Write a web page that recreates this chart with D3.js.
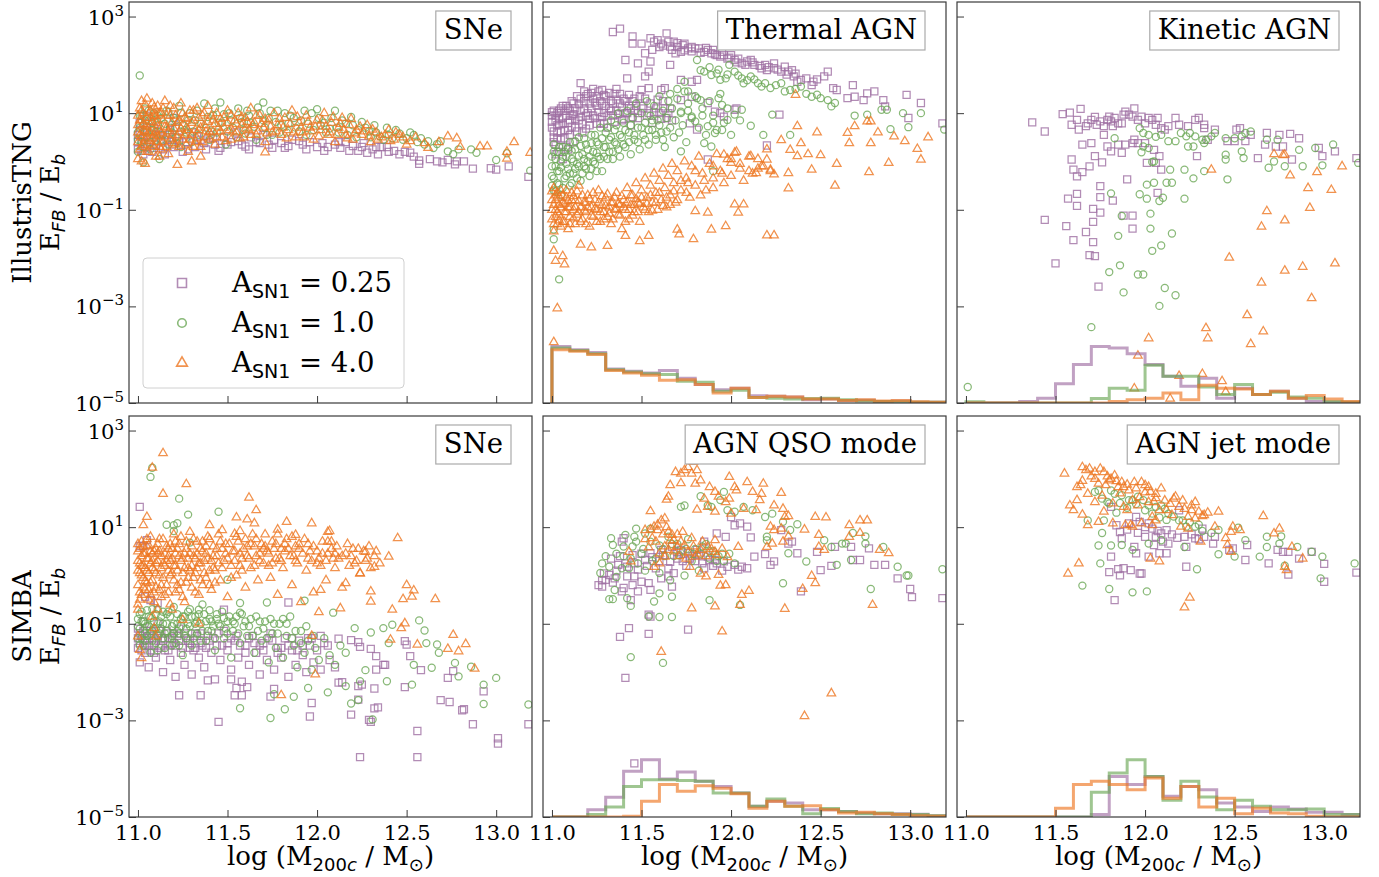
<!DOCTYPE html>
<html>
<head>
<meta charset="utf-8">
<script src="https://cdn.jsdelivr.net/npm/d3@7"></script>
<style>
  body { margin: 0; background: #fff; }
  svg { display: block; }
</style>
</head>
<body>
<svg id="chart" width="1379" height="877"></svg>
<script>
// axis values
var massTicks = [11.0, 11.5, 12.0, 12.5, 13.0],
  energyTicks = [1e3, 1e1, 1e-1, 1e-3, 1e-5],
  energyTickExp = ["3", "1", "\u22121", "\u22123", "\u22125"],
  binEdges = [11.0, 11.1, 11.2, 11.3, 11.4, 11.5, 11.6, 11.7, 11.8, 11.9, 12.0,
    12.1, 12.2, 12.3, 12.4, 12.5, 12.6, 12.7, 12.8, 12.9, 13.0, 13.1, 13.2],
  runLabels = ["0.25", "1.0", "4.0"],
  runColors = ["#9f6fa3", "#6ca756", "#ee7722"];

// scatter points: [log M200c, log10(E_FB / E_b)]
// IllustrisTNG - SNe
var tngSNe025 = [[11.00,0.25],[11.00,0.55],[11.01,0.80],[11.02,0.40],[11.03,0.15],[11.04,0.65],[11.05,0.30],[11.06,0.50],
  [11.08,0.20],[11.09,0.70],[11.10,0.35],[11.12,0.55],[11.14,0.25],[11.16,0.45],[11.18,0.65],[11.20,0.30],[11.22,0.50],
  [11.25,0.20],[11.27,0.40],[11.30,0.60],[11.32,0.30],[11.35,0.45],[11.38,0.25],[11.40,0.55],[11.43,0.35],[11.46,0.28],
  [11.48,0.50],[11.52,0.40],[11.55,0.60],[11.58,0.35],[11.60,0.31],[11.63,0.50],[11.66,0.40],[11.70,0.55],[11.73,0.35],
  [11.76,0.45],[11.80,0.38],[11.82,0.28],[11.86,0.45],[11.90,0.42],[11.92,0.35],[11.96,0.40],[12.00,0.30],[12.03,0.38],
  [12.06,0.30],[12.10,0.35],[12.13,0.28],[12.16,0.40],[12.20,0.32],[12.23,0.22],[12.25,0.30],[12.28,0.18],[12.31,0.25],
  [12.34,0.15],[12.36,0.30],[12.40,0.20],[12.46,0.15],[12.49,0.20],[12.54,0.10],[12.57,-0.05],[12.57,0.02],[12.63,0.05],
  [12.67,0.00],[12.70,-0.02],[12.73,0.03],[12.77,-0.06],[12.78,0.00],[12.82,0.00],[12.87,-0.15],[12.97,-0.14],[13.00,-0.17],
  [13.07,-0.10],[13.18,-0.32],[11.05,0.95],[11.20,0.90],
  [11.00,0.40],[11.01,0.62],[11.02,0.22],[11.03,0.50],[11.05,0.70],[11.07,0.40],[11.09,0.28],[11.11,0.62],[11.13,0.42],
  [11.15,0.15],[11.17,0.55],[11.19,0.35],[11.21,0.70],[11.23,0.42],[11.28,0.25],[11.33,0.52],[11.37,0.38],[11.42,0.48],
  [11.45,0.22],[11.50,0.35],[11.56,0.42],[11.62,0.25],[11.68,0.38],[11.75,0.28],[11.84,0.32],[11.94,0.25],[12.04,0.22],
  [12.12,0.40],[12.18,0.22],[12.26,0.38],[12.33,0.30],[12.39,0.30],[12.43,0.22],[12.52,0.18]];
var tngSNe1 = [[11.01,1.78],[11.00,0.20],[11.00,0.60],[11.01,0.95],[11.02,0.40],[11.03,0.75],[11.03,-0.02],[11.04,1.10],
  [11.05,0.50],[11.06,0.85],[11.07,0.25],[11.08,0.65],[11.09,1.00],[11.10,0.45],[11.11,0.75],[11.12,0.05],[11.13,0.90],
  [11.14,0.55],[11.16,1.05],[11.17,0.35],[11.18,0.70],[11.20,0.90],[11.21,0.50],[11.23,1.15],[11.24,0.30],[11.25,0.75],
  [11.27,0.60],[11.29,1.00],[11.30,0.40],[11.32,0.85],[11.34,0.55],[11.37,1.20],[11.38,0.70],[11.40,0.45],[11.42,0.95],
  [11.44,0.60],[11.46,1.22],[11.47,0.80],[11.49,0.35],[11.51,1.00],[11.53,0.70],[11.55,0.50],[11.57,0.90],[11.59,0.65],
  [11.61,1.05],[11.63,0.80],[11.66,0.45],[11.68,1.00],[11.70,1.22],[11.71,0.70],[11.73,0.90],[11.75,0.55],[11.78,1.05],
  [11.80,0.75],[11.83,0.60],[11.85,0.95],[11.88,0.70],[11.91,0.85],[11.94,0.55],[11.97,1.00],[12.00,1.08],[12.02,0.75],
  [12.05,0.60],[12.08,0.90],[12.11,0.70],[12.14,0.85],[12.17,0.55],[12.20,0.75],[12.23,0.65],[12.27,0.70],[12.30,0.50],
  [12.33,0.60],[12.37,0.45],[12.40,0.55],[12.44,0.65],[12.48,0.45],[12.52,0.60],[12.56,0.40],[12.60,0.35],[12.65,0.28],
  [12.69,0.42],[12.73,0.21],[12.76,0.15],[12.79,0.25],[12.86,0.25],[12.89,0.18],[13.00,0.03],[13.06,0.17],[13.19,-0.19],
  [11.00,0.45],[11.01,0.70],[11.02,0.95],[11.03,0.30],[11.04,0.85],[11.05,0.60],[11.06,1.05],[11.07,0.40],[11.08,0.80],
  [11.10,0.62],[11.11,0.95],[11.13,0.45],[11.15,0.78],[11.17,1.02],[11.19,0.60],[11.21,0.85],[11.22,0.38],[11.24,1.00],
  [11.26,0.65],[11.28,0.85],[11.31,0.62],[11.33,1.05],[11.35,0.78],[11.39,0.92],[11.41,0.62],[11.43,1.10],[11.45,0.80],
  [11.48,0.98],[11.50,0.62],[11.52,0.85],[11.56,1.10],[11.58,0.82],[11.60,0.58],[11.62,0.95],[11.65,0.72],[11.67,1.12],
  [11.70,0.85],[11.72,0.55],[11.74,1.05],[11.77,0.82],[11.79,0.60],[11.82,1.00],[11.84,0.78],[11.87,0.90],[11.90,0.62],
  [11.93,1.05],[11.95,0.78],[11.98,0.65],[12.01,0.90],[12.04,0.80],[12.07,0.68],[12.10,1.05],[12.12,0.60],[12.16,0.78],
  [12.19,0.92],[12.22,0.50],[12.25,0.82],[12.29,0.62],[12.32,0.75],[12.35,0.52],[12.39,0.70],[12.42,0.48],[12.46,0.58],
  [12.50,0.48],[12.54,0.55],[12.58,0.48],[12.62,0.42],[12.67,0.36]];
var tngSNe4 = [[11.00,0.05],[11.00,0.40],[11.00,0.75],[11.01,1.10],[11.01,0.55],[11.02,1.25],[11.02,0.30],[11.02,0.85],
  [11.03,0.65],[11.03,1.00],[11.04,-0.05],[11.04,0.45],[11.05,0.90],[11.05,1.30],[11.06,0.60],[11.06,0.20],[11.07,1.05],
  [11.07,0.75],[11.08,0.35],[11.08,1.20],[11.09,0.55],[11.09,0.95],[11.10,0.80],[11.10,0.10],[11.11,1.15],[11.11,0.40],
  [11.12,0.65],[11.13,1.00],[11.13,0.25],[11.14,0.85],[11.15,1.25],[11.15,0.50],[11.16,0.70],[11.17,0.15],[11.18,0.95],
  [11.19,0.55],[11.20,1.10],[11.21,0.35],[11.22,0.80],[11.23,0.60],[11.24,1.20],[11.25,0.45],[11.26,0.90],[11.27,0.70],
  [11.28,0.20],[11.29,1.05],[11.30,0.55],[11.31,0.85],[11.32,0.40],[11.33,1.10],[11.34,0.65],[11.35,0.30],[11.36,0.95],
  [11.37,0.75],[11.38,0.50],[11.39,1.15],[11.40,0.60],[11.42,0.85],[11.43,0.35],[11.44,1.00],[11.45,0.70],[11.47,0.50],
  [11.48,0.90],[11.50,1.05],[11.51,0.65],[11.52,0.45],[11.54,0.85],[11.55,0.60],[11.56,1.00],[11.58,0.75],[11.59,0.50],
  [11.60,0.90],[11.62,0.65],[11.63,1.10],[11.65,0.80],[11.66,0.55],[11.68,0.95],[11.70,0.70],[11.71,0.40],[11.73,0.85],
  [11.75,0.60],[11.76,1.00],[11.78,0.75],[11.80,0.55],[11.82,0.90],[11.84,0.65],[11.86,1.05],[11.88,0.50],[11.90,0.80],
  [11.92,0.60],[11.94,0.95],[11.96,0.70],[11.98,0.45],[12.00,0.85],[12.02,0.65],[12.04,1.00],[12.06,0.55],[12.08,0.80],
  [12.10,0.40],[12.12,0.70],[12.14,0.90],[12.16,0.55],[12.18,0.75],[12.20,0.45],[12.22,0.65],[12.25,0.55],[12.28,0.75],
  [12.30,0.40],[12.33,0.60],[12.36,0.50],[12.40,0.65],[12.43,0.45],[12.46,0.55],[12.50,0.35],[12.55,0.50],[12.60,0.38],
  [12.62,0.28],[12.68,0.40],[12.73,0.52],[12.78,0.48],[12.80,0.30],[12.91,0.31],[12.95,0.31],[13.06,0.20],[13.06,0.06],
  [13.10,0.40],[13.19,0.18],[11.22,-0.07],[11.30,0.00],[11.35,0.10],[11.02,0.00],[11.12,0.10],[11.71,0.19],
  [11.00,0.95],[11.00,0.60],[11.01,0.25],[11.01,0.85],[11.02,0.50],[11.02,1.05],[11.03,0.35],[11.03,0.78],[11.04,1.18],
  [11.04,0.62],[11.05,0.20],[11.05,0.72],[11.06,1.00],[11.06,0.42],[11.07,0.58],[11.07,0.90],[11.08,0.48],[11.08,0.82],
  [11.09,0.30],[11.09,1.12],[11.10,0.62],[11.10,0.95],[11.11,0.52],[11.11,0.85],[11.12,0.30],[11.12,1.00],[11.13,0.58],
  [11.14,0.40],[11.14,1.10],[11.15,0.72],[11.16,0.30],[11.16,0.95],[11.17,0.62],[11.18,0.45],[11.18,1.15],[11.19,0.80],
  [11.20,0.38],[11.20,0.68],[11.21,0.95],[11.22,0.52],[11.23,0.85],[11.23,0.30],[11.24,0.68],[11.25,1.00],[11.26,0.55],
  [11.27,0.35],[11.27,0.88],[11.28,0.65],[11.29,0.45],[11.30,0.80],[11.31,1.05],[11.31,0.30],[11.32,0.65],[11.33,0.48],
  [11.34,0.90],[11.35,0.70],[11.36,0.40],[11.37,1.00],[11.38,0.62],[11.39,0.82],[11.40,0.45],[11.41,0.95],[11.42,0.62],
  [11.43,0.78],[11.44,0.50],[11.46,0.88],[11.46,0.62],[11.48,0.70],[11.49,0.42],[11.50,0.80],[11.52,0.95],[11.53,0.62],
  [11.55,0.78],[11.57,0.48],[11.58,0.92],[11.60,0.68],[11.61,0.82],[11.63,0.55],[11.64,0.75],[11.66,0.95],[11.67,0.62],
  [11.69,0.78],[11.71,0.88],[11.72,0.58],[11.74,0.72],[11.77,0.62],[11.79,0.88],[11.81,0.70],[11.83,0.48],[11.85,0.78],
  [11.87,0.60],[11.89,0.92],[11.91,0.70],[11.93,0.50],[11.95,0.82],[11.97,0.62],[11.99,0.72],[12.01,0.52],[12.03,0.85],
  [12.05,0.72],[12.07,0.60],[12.09,0.92],[12.11,0.55],[12.13,0.78],[12.15,0.65],[12.17,0.48],[12.19,0.88],[12.21,0.58],
  [12.24,0.72],[12.26,0.62],[12.29,0.52],[12.31,0.66],[12.34,0.45],[12.38,0.55],[12.41,0.42],[12.44,0.60],[12.48,0.50],
  [12.52,0.42]];

// IllustrisTNG - thermal AGN
var tngThermal025 = [[11.34,2.68],[11.38,2.75],[11.45,2.59],[11.45,2.44],[11.50,2.44],[11.52,2.24],[11.55,2.55],[11.56,2.31],
  [11.59,2.51],[11.61,2.44],[11.64,2.65],[11.65,2.48],[11.68,2.48],[11.70,2.37],[11.72,2.27],[11.74,2.44],[11.76,2.34],
  [11.78,2.37],[11.80,2.34],[11.82,2.34],[11.85,2.27],[11.89,2.24],[11.92,2.20],[11.94,2.17],[11.98,2.13],[12.02,2.10],
  [12.06,2.03],[12.09,2.07],[12.13,2.00],[12.17,1.93],[12.20,1.89],[12.24,2.03],[12.28,1.86],[12.32,1.86],[12.35,1.76],
  [12.39,1.69],[12.46,1.65],[12.52,1.76],[12.54,1.86],[12.57,1.52],[12.59,1.48],[12.68,1.58],[12.69,1.34],[12.74,1.27],
  [12.76,1.41],[12.80,1.45],[12.85,1.27],[12.86,1.14],[12.98,1.38],[13.06,1.21],[12.99,0.90],[13.18,0.79],[11.57,2.48],
  [11.60,2.37],[11.67,2.31],[11.69,2.24],[11.73,2.41],[11.87,2.31],[11.90,2.31],[11.96,2.20],[12.00,2.20],[12.04,2.13],
  [12.11,2.10],[12.19,2.00],[12.24,1.93],[12.30,1.96],[12.34,1.89],[12.37,1.65],[12.45,1.58],[12.65,1.31],
  [11.62,2.40],[11.66,2.38],[11.70,2.45],[11.74,2.30],[11.78,2.28],[11.83,2.25],[11.86,2.35],[11.91,2.22],[11.95,2.27],
  [11.99,2.15],[12.03,2.05],[12.08,2.00],[12.12,2.05],[12.16,1.98],[12.21,1.95],[12.26,1.90],[12.31,1.80],[12.36,1.82],
  [12.42,1.72],[12.48,1.70],
  [11.16,1.62],[11.41,2.10],[11.42,1.72],[11.48,2.03],[11.52,1.76],[11.54,1.86],[11.55,2.07],[11.66,2.00],[11.50,1.48],
  [11.54,1.52],[11.72,1.69],[11.78,1.65],[11.81,1.69],[11.87,1.21],[12.02,1.07],[12.20,0.33],[11.87,0.04],[11.96,0.93],
  [12.27,0.97],[11.61,1.48],[11.63,1.52],[11.78,1.34],[11.72,1.27],[11.77,0.79],[11.81,0.66],[11.91,1.03],[11.94,1.00],
  [12.03,1.10],
  [11.00,0.95],[11.00,0.70],[11.01,0.50],[11.01,1.05],[11.02,0.85],[11.02,0.35],[11.03,0.60],[11.03,1.00],[11.04,0.78],
  [11.05,0.45],[11.05,1.10],[11.06,0.90],[11.07,0.65],[11.08,1.15],[11.08,0.30],[11.09,0.80],[11.10,1.05],[11.10,0.55],
  [11.11,0.95],[11.12,1.20],[11.13,0.70],[11.14,1.35],[11.15,0.85],[11.16,1.05],[11.17,0.60],[11.18,1.25],[11.19,0.95],
  [11.20,1.40],[11.21,0.75],[11.22,1.10],[11.23,1.30],[11.24,0.90],[11.25,1.15],[11.26,1.45],[11.27,0.80],[11.28,1.20],
  [11.29,1.00],[11.30,1.35],[11.31,0.70],[11.32,1.10],[11.33,1.25],[11.34,0.95],[11.35,1.40],[11.36,1.05],[11.38,1.20],
  [11.39,0.85],[11.40,1.30],[11.41,1.00],[11.43,1.15],[11.44,0.75],[11.45,1.25],[11.46,1.05],[11.48,0.90],[11.50,1.15],
  [11.52,1.30],[11.54,1.00],[11.56,0.80],[11.58,1.10],[11.60,1.00],[11.62,1.25],[11.64,0.90],[11.66,1.10],[11.04,0.20],
  [11.02,0.15],[11.12,0.40],[11.07,1.05],[11.18,1.45],[11.23,1.50],[11.28,1.48],[11.36,1.50],[11.06,0.05],[11.09,0.25],
  [11.00,0.82],[11.00,1.02],[11.01,0.62],[11.01,0.40],[11.02,0.95],[11.03,0.75],[11.03,0.48],[11.04,1.05],[11.04,0.88],
  [11.05,0.62],[11.06,0.78],[11.06,1.15],[11.07,0.48],[11.08,0.95],[11.09,1.10],[11.09,0.65],[11.10,0.85],[11.11,1.25],
  [11.11,0.72],[11.12,0.98],[11.13,1.10],[11.13,0.88],[11.14,0.62],[11.15,1.18],[11.16,0.92],[11.16,1.30],[11.17,0.78],
  [11.18,1.08],[11.19,1.35],[11.19,0.68],[11.20,1.00],[11.21,1.20],[11.21,0.88],[11.22,1.42],[11.23,0.95],[11.24,1.22],
  [11.25,0.78],[11.25,1.35],[11.26,1.02],[11.27,1.25],[11.28,0.92],[11.29,1.38],[11.29,0.78],[11.30,1.15],[11.31,0.95],
  [11.32,1.42],[11.33,1.05],[11.34,1.20],[11.35,0.82],[11.36,1.28],[11.37,0.98],[11.38,1.40],[11.39,1.12],[11.40,0.88],
  [11.41,1.25],[11.42,1.00],[11.43,1.38],[11.44,1.10],[11.45,0.92],[11.46,1.30],[11.47,1.15],[11.48,1.00],[11.49,1.35],
  [11.51,1.10],[11.53,0.95],[11.55,1.20],[11.57,1.02],[11.59,1.28],[11.61,0.88],[11.63,1.10],[11.65,1.00],[11.67,0.85]];
var tngThermal1 = [[11.00,-0.30],[11.00,0.10],[11.01,-0.60],[11.01,0.35],[11.02,-0.10],[11.03,-0.45],[11.03,0.20],
  [11.04,-0.20],[11.05,0.00],[11.05,-0.70],[11.06,0.30],[11.07,-0.35],[11.08,0.10],[11.09,-0.15],[11.10,0.40],[11.10,-0.50],
  [11.11,0.05],[11.12,-0.25],[11.13,0.25],[11.14,-0.05],[11.15,0.50],[11.16,-0.40],[11.17,0.15],[11.18,-0.10],[11.19,0.35],
  [11.20,0.00],[11.21,-0.30],[11.22,0.55],[11.23,0.20],[11.24,-0.05],[11.25,0.40],[11.26,0.10],[11.27,0.70],[11.28,-0.20],
  [11.29,0.30],[11.30,0.60],[11.31,0.05],[11.32,0.45],[11.33,0.85],[11.34,0.20],[11.35,0.65],[11.36,0.35],[11.37,1.00],
  [11.38,0.10],[11.39,0.50],[11.40,0.80],[11.41,0.30],[11.42,1.05],[11.43,0.60],[11.44,0.15],[11.45,0.90],[11.46,0.45],
  [11.47,1.20],[11.48,0.70],[11.49,0.25],[11.50,1.00],[11.51,0.55],[11.52,0.80],[11.53,1.25],[11.54,0.35],[11.55,0.95],
  [11.56,0.65],[11.57,1.15],[11.58,0.45],[11.59,0.85],[11.60,1.35],[11.61,0.60],[11.62,1.05],[11.63,0.30],[11.64,0.90],
  [11.65,1.25],[11.66,0.70],[11.67,1.10],[11.68,0.50],[11.69,0.85],[11.70,1.30],[11.71,0.60],[11.72,1.00],[11.73,0.75],
  [11.74,1.45],[11.75,0.40],[11.76,1.20],[11.78,0.90],[11.80,1.35],[11.82,0.70],[11.84,1.10],[11.86,0.55],[11.88,1.25],
  [11.90,0.95],[11.92,0.65],[11.94,1.40],[11.96,0.80],[11.98,1.10],
  [11.81,2.10],[11.83,1.89],[11.85,1.86],[11.89,1.79],[11.92,1.82],[11.94,1.69],[11.97,1.72],[11.99,2.00],[12.02,1.86],
  [12.06,1.72],[12.07,1.62],[12.11,1.76],[12.15,1.62],[12.19,1.62],[12.22,1.52],[12.28,1.62],[12.33,1.48],[12.39,1.55],
  [12.45,1.34],[12.50,1.31],[12.54,1.27],[12.56,1.14],[12.58,1.21],[11.74,1.65],[11.76,1.45],[11.81,1.31],[11.83,1.27],
  [11.93,1.31],[11.95,1.17],[11.72,1.03],[11.78,0.93],[11.80,0.83],[11.87,0.73],[11.91,0.59],[11.98,0.86],[12.02,0.97],
  [12.06,1.07],[12.11,0.74],[12.18,0.55],[12.23,0.97],[12.33,0.55],[12.89,0.67],[12.99,0.71],[12.96,1.00],[13.06,1.00],
  [13.19,0.66],[12.84,1.07],[12.87,1.07],[12.69,0.95],[12.76,0.97],[11.85,0.38],[11.89,0.31],[11.72,0.21],[11.90,-0.20],
  [11.04,-2.44],[11.01,-1.61],[11.01,-1.41],
  [11.88,1.95],[11.93,1.90],[11.98,1.80],[12.04,1.78],[12.09,1.68],[12.13,1.70],[12.17,1.55],[12.25,1.58],[12.30,1.45],
  [12.36,1.50],[12.42,1.40],[12.48,1.38],[11.76,1.05],[11.84,0.95],[11.90,0.80],[11.95,0.65],[12.00,0.55],[12.05,0.85],
  [11.70,1.50],[11.66,1.40],
  [11.00,-0.10],[11.00,-0.50],[11.01,0.20],[11.01,-0.35],[11.02,0.05],[11.02,-0.62],[11.03,-0.20],[11.04,0.30],[11.04,-0.48],
  [11.05,-0.12],[11.06,0.10],[11.06,-0.55],[11.07,0.20],[11.08,-0.30],[11.08,-0.05],[11.09,0.28],[11.10,-0.25],[11.11,0.22],
  [11.11,-0.45],[11.12,0.00],[11.13,-0.15],[11.13,0.42],[11.14,-0.35],[11.15,0.12],[11.15,-0.10],[11.16,0.32],[11.17,-0.25],
  [11.18,0.05],[11.18,0.48],[11.19,-0.15],[11.20,0.25],[11.21,0.10],[11.22,-0.15],[11.22,0.38],[11.23,0.00],[11.24,0.55],
  [11.25,0.18],[11.25,-0.20],[11.26,0.35],[11.27,0.05],[11.28,0.48],[11.29,0.10],[11.30,0.30],[11.31,0.70],[11.32,0.20],
  [11.33,0.50],[11.34,0.05],[11.35,0.40],[11.36,0.75],[11.37,0.25],[11.38,0.55],[11.40,0.35],[11.41,0.65],[11.43,0.40],
  [11.44,0.75],[11.46,0.55],[11.48,0.40],[11.50,0.70],[11.52,0.45],[11.54,0.65],[11.56,0.85],[11.58,0.55],[11.60,0.75],
  [11.62,0.45],[11.64,0.62]];
var tngThermal4 = [[11.00,-0.80],[11.00,-1.20],[11.01,-0.55],[11.01,-1.45],[11.02,-1.00],[11.02,-0.70],[11.03,-1.30],
  [11.04,-0.90],[11.04,-1.10],[11.05,-0.60],[11.06,-1.25],[11.06,-0.85],[11.07,-1.05],[11.08,-0.75],[11.09,-1.40],
  [11.09,-0.95],[11.10,-1.15],[11.11,-0.65],[11.12,-1.00],[11.13,-1.30],[11.13,-0.80],[11.14,-1.10],[11.15,-0.50],
  [11.16,-0.95],[11.17,-1.20],[11.18,-0.85],[11.19,-1.05],[11.20,-0.70],[11.21,-1.35],[11.22,-0.95],[11.23,-1.15],
  [11.24,-0.80],[11.25,-1.00],[11.26,-0.60],[11.27,-1.25],[11.28,-0.90],[11.29,-1.05],[11.30,-0.75],[11.31,-1.15],
  [11.32,-0.95],[11.33,-1.30],[11.34,-0.85],[11.35,-1.00],[11.36,-0.65],[11.37,-1.10],[11.38,-0.90],[11.39,-1.40],
  [11.40,-0.80],[11.41,-1.00],[11.42,-0.55],[11.43,-1.20],[11.44,-0.90],[11.45,-0.70],[11.46,-1.05],[11.47,-0.45],
  [11.48,-0.85],[11.49,-1.25],[11.50,-0.60],[11.51,-0.95],[11.52,-0.35],[11.53,-0.75],[11.54,-1.05],[11.55,-0.50],
  [11.56,-0.85],[11.57,-0.25],[11.58,-0.65],[11.59,-1.00],[11.60,-0.40],[11.61,-0.80],[11.62,-0.15],[11.63,-0.55],
  [11.64,-0.95],[11.65,-0.30],[11.66,-0.70],[11.67,-0.05],[11.68,-0.45],[11.69,-0.85],[11.70,-0.20],[11.72,-0.60],
  [11.74,0.00],[11.75,-0.35],[11.77,-0.75],[11.78,-0.10],[11.80,-0.50],[11.82,0.10],[11.84,-0.25],[11.86,-0.60],
  [11.88,-0.05],[11.90,-0.35],[11.92,0.15],[11.94,-0.20],[11.96,-0.45],[11.98,0.05],[12.00,-0.30],[12.03,0.20],
  [12.05,-0.15],[12.07,-0.40],[12.10,0.10],[12.12,-0.25],[12.15,0.05],[12.18,-0.10],[12.20,0.25],[12.22,-0.20],
  [11.22,-1.78],[11.16,-1.72],[11.31,-1.75],[11.41,-1.54],[11.49,-1.65],[11.54,-1.54],[11.70,-1.41],[11.71,-1.51],
  [11.79,-1.61],[11.89,-1.41],[11.97,-1.34],[11.87,-1.06],[11.80,-1.03],[12.04,-1.06],[12.07,-0.89],[12.02,-0.89],
  [12.20,-1.53],[12.24,-1.53],[11.01,-1.85],[11.02,-2.06],[11.07,-2.13],[11.06,-1.96],[11.03,-3.04],[11.01,-3.74],
  [12.37,0.73],[12.48,0.60],[12.65,0.59],[12.76,0.83],[12.78,0.83],[12.82,0.60],[12.91,0.52],[12.97,0.42],[13.04,0.26],
  [13.06,0.04],[13.10,0.50],[12.88,-0.03],[12.77,-0.22],[12.59,-0.05],[12.58,-0.50],[12.32,-0.56],[12.45,-0.17],
  [12.50,0.13],[12.43,0.15],[12.39,0.38],[12.33,0.24],[12.37,0.11],[12.28,0.44],[12.36,1.38],[12.69,0.73],[12.66,0.38],
  [12.78,0.38],[12.11,0.11],[12.02,0.18],[12.00,-0.03],[12.20,0.04],[12.24,-0.27],[12.14,-0.24],[12.17,-0.10],
  [12.22,-0.17],[12.32,-0.24],[11.96,0.14],
  [11.76,-0.45],[11.80,-0.20],[11.85,-0.40],[11.90,-0.10],[11.95,-0.25],[12.00,0.05],[12.05,-0.05],[12.10,-0.20],
  [12.15,-0.15],[11.83,-0.70],[11.90,-0.55],
  [11.00,-1.00],[11.00,-0.62],[11.01,-0.90],[11.01,-1.30],[11.02,-0.80],[11.02,-1.15],[11.03,-0.65],[11.03,-1.05],
  [11.04,-1.22],[11.04,-0.75],[11.05,-0.95],[11.05,-1.35],[11.06,-0.70],[11.07,-0.88],[11.07,-1.25],[11.08,-1.05],
  [11.08,-0.60],[11.09,-0.82],[11.10,-0.95],[11.10,-1.30],[11.11,-0.80],[11.12,-1.18],[11.12,-0.72],[11.13,-0.95],
  [11.14,-0.62],[11.15,-1.05],[11.15,-0.82],[11.16,-1.25],[11.17,-0.70],[11.18,-1.02],[11.19,-0.85],[11.19,-1.30],
  [11.20,-0.95],[11.21,-0.78],[11.22,-1.12],[11.23,-0.65],[11.24,-0.98],[11.25,-1.25],[11.26,-0.85],[11.27,-1.05],
  [11.28,-0.72],[11.29,-1.20],[11.30,-0.92],[11.31,-0.68],[11.32,-1.08],[11.33,-0.85],[11.34,-1.20],[11.35,-0.75],
  [11.36,-0.98],[11.37,-0.88],[11.38,-1.12],[11.39,-0.72],[11.40,-0.95],[11.41,-1.25],[11.42,-0.85],[11.43,-1.00],
  [11.44,-0.70],[11.45,-1.12],[11.46,-0.90],[11.47,-0.78],[11.48,-1.05],[11.49,-0.88],[11.50,-0.75],[11.52,-1.00],
  [11.53,-0.88],[11.55,-0.70],[11.56,-1.02],[11.58,-0.85],[11.60,-0.65],[11.62,-0.92],[11.64,-0.75],[11.66,-0.90],
  [11.68,-0.62],[11.70,-0.80],[11.72,-0.40],[11.75,-0.65]];

// IllustrisTNG - kinetic AGN
var tngKinetic025 = [[11.37,0.81],[11.44,0.62],[11.54,0.98],[11.58,1.01],[11.64,1.09],[11.59,0.76],[11.63,0.66],[11.62,0.86],
  [11.67,0.73],[11.68,0.79],[11.70,0.86],[11.72,0.92],[11.73,0.76],[11.75,0.83],[11.77,0.73],[11.79,0.86],[11.80,0.93],
  [11.81,0.83],[11.82,0.73],[11.83,0.90],[11.85,0.79],[11.87,0.79],[11.88,0.97],[11.89,1.03],[11.91,0.97],[11.93,0.93],
  [11.94,1.10],[11.96,0.86],[11.98,0.93],[12.00,0.79],[12.02,0.90],[12.04,0.86],[12.06,0.76],[12.07,0.90],[12.09,0.69],
  [12.11,0.66],[12.13,0.73],[12.17,0.90],[12.19,0.76],[12.24,0.73],[12.28,0.86],[12.30,0.90],[12.33,0.69],[12.33,0.76],
  [12.39,0.66],[12.51,0.66],[12.53,0.69],[12.56,0.42],[12.59,0.55],[12.68,0.59],[12.75,0.55],[12.81,0.57],[12.86,0.48],
  [12.97,0.28],[13.06,0.21],[12.99,0.11],[13.18,0.07],[12.82,0.04],[12.63,0.07],[12.67,0.35],[12.73,0.31],[12.77,0.31],
  [12.46,0.42],[12.35,0.45],[12.29,0.11],[12.50,0.42],[11.65,0.35],[11.70,0.38],[11.77,0.55],[11.79,0.31],[11.81,0.21],
  [11.87,0.18],[11.85,0.35],[11.89,0.35],[11.93,0.38],[11.94,0.45],[11.96,0.38],[12.00,0.38],[12.05,0.24],[12.01,-0.03],
  [12.06,-0.03],[12.08,0.11],[12.09,-0.17],[11.59,0.04],[11.60,-0.17],[11.62,-0.31],[11.65,-0.22],[11.69,-0.10],
  [11.72,0.11],[11.76,-0.02],[11.90,-0.37],[11.75,-0.51],[11.75,-0.74],[11.82,-0.81],[11.57,-0.77],[11.62,-0.67],
  [11.62,-0.92],[11.71,-0.98],[11.75,-1.06],[11.88,-1.12],[11.93,-1.12],[12.07,-0.65],[11.44,-1.21],[11.56,-1.34],
  [11.71,-1.25],[11.67,-1.46],[11.60,-1.63],[11.71,-1.67],[11.93,-1.39],[11.69,-1.94],[11.72,-1.96],[11.50,-2.11],
  [11.74,-2.59]];
var tngKinetic1 = [[11.83,0.48],[11.97,0.69],[11.99,0.59],[12.02,0.55],[12.06,0.51],[12.09,0.55],[12.13,0.42],[12.17,0.42],
  [12.20,0.59],[12.23,0.52],[12.25,0.59],[12.28,0.52],[12.32,0.45],[12.34,0.45],[12.37,0.52],[12.39,0.59],[12.45,0.48],
  [12.50,0.48],[12.54,0.52],[12.56,0.59],[12.59,0.62],[12.68,0.45],[12.74,0.45],[12.86,0.24],[12.95,0.28],[13.05,0.35],
  [11.99,0.31],[12.02,0.28],[11.98,0.19],[12.04,-0.01],[12.05,0.00],[12.24,0.31],[12.27,0.31],[12.33,0.38],[12.45,0.14],
  [12.45,0.04],[12.54,0.21],[12.55,0.07],[12.72,0.00],[12.78,-0.10],[12.69,-0.13],[12.88,-0.10],[12.99,-0.08],
  [13.19,-0.03],[12.14,-0.17],[12.22,-0.17],[12.33,-0.20],[12.27,-0.35],[12.46,-0.37],[12.01,-0.48],[12.05,-0.44],
  [12.12,-0.44],[12.15,-0.44],[11.81,-0.66],[11.97,-0.68],[12.01,-0.77],[12.08,-0.82],[12.10,-0.75],[12.22,-0.77],
  [11.87,-1.13],[12.03,-1.08],[12.03,-1.39],[12.15,-1.49],[11.85,-1.54],[12.04,-1.85],[12.09,-1.74],[11.80,-2.29],
  [11.86,-2.15],[11.96,-2.34],[11.99,-2.34],[11.88,-2.71],[12.11,-2.62],[12.17,-2.77],[12.08,-2.99],[11.70,-3.43],
  [11.01,-4.67]];
var tngKinetic4 = [[12.72,0.15],[12.77,0.13],[12.78,0.14],[12.37,-0.17],[12.81,-0.29],[12.96,-0.22],[13.10,-0.10],
  [12.91,-0.55],[13.04,-0.59],[12.68,-1.03],[12.92,-0.96],[12.65,-1.35],[12.78,-1.22],[12.47,-1.99],[12.78,-2.26],
  [12.88,-2.18],[13.06,-2.11],[12.65,-2.51],[12.93,-2.83],[12.57,-3.18],[12.34,-3.45],[12.66,-3.52],[12.59,-3.78],
  [12.02,-3.66],[12.35,-3.66],[11.96,-4.02],[12.19,-4.44],[12.32,-4.40],[12.43,-4.55],[12.45,-4.77],[11.94,-4.70],
  [12.14,-4.91]];

// SIMBA - SNe
var simbaSNe025 = [[11.01,1.42],[11.01,0.61],[11.03,0.61],[11.05,0.73],[11.04,-0.44],[11.07,-0.51],[11.11,-0.57],
  [11.48,-0.71],[11.84,-0.56],[11.23,-2.48],[11.35,-2.48],[11.39,-2.17],[11.45,-3.03],[11.52,-2.15],[11.55,-2.33],
  [11.54,-2.48],[11.58,-2.48],[11.61,-2.31],[11.74,-2.51],[11.76,-2.35],[11.97,-2.64],[11.96,-2.92],[12.19,-2.88],
  [12.24,-3.76],[12.29,-2.99],[12.32,-2.75],[12.34,-2.73],[12.30,-3.03],[12.56,-3.22],[12.56,-3.76],[12.69,-2.58],
  [12.74,-2.62],[12.73,-2.12],[12.76,-1.98],[12.81,-2.79],[12.82,-2.77],[12.87,-3.08],[12.93,-2.40],[13.01,-3.37],
  [13.01,-3.48],[13.18,-3.08],[12.49,-2.31],[12.50,-1.43],[12.52,-1.67],[12.58,-1.96],[12.37,-1.85],[12.33,-1.95],
  [12.32,-2.34],[12.25,-2.26],[12.23,-2.29],[12.23,-2.57],[12.12,-2.22],[12.14,-2.21],[12.12,-1.31],[12.19,-1.34],
  [12.23,-1.38],[12.24,-1.48],[12.30,-1.52],[12.33,-1.67],[12.38,-1.85],[12.49,-1.36],
  [11.00,-1.10],[11.00,-1.50],[11.01,-1.80],[11.02,-1.25],[11.03,-0.95],[11.04,-1.60],[11.05,-1.35],[11.06,-1.90],
  [11.07,-1.15],[11.09,-1.45],[11.10,-1.70],[11.11,-1.00],[11.13,-1.30],[11.14,-2.00],[11.15,-1.55],[11.17,-1.20],
  [11.18,-1.75],[11.20,-1.40],[11.21,-2.10],[11.23,-1.10],[11.24,-1.60],[11.26,-1.85],[11.27,-1.30],[11.29,-1.50],
  [11.30,-2.05],[11.32,-1.20],[11.34,-1.70],[11.35,-1.40],[11.37,-1.90],[11.39,-1.25],[11.41,-1.60],[11.43,-2.15],
  [11.44,-1.45],[11.46,-1.75],[11.48,-1.15],[11.50,-1.55],[11.52,-1.95],[11.54,-1.35],[11.56,-1.70],[11.58,-2.20],
  [11.60,-1.45],[11.62,-1.85],[11.64,-1.25],[11.66,-1.60],[11.68,-2.05],[11.70,-1.40],[11.72,-1.75],[11.74,-1.20],
  [11.76,-1.95],[11.78,-1.50],[11.80,-1.70],[11.82,-1.30],[11.84,-2.10],[11.86,-1.55],[11.88,-1.85],[11.90,-1.35],
  [11.92,-1.65],[11.94,-2.00],[11.96,-1.45],[11.98,-1.80],[12.00,-1.55],[12.02,-1.95],[12.04,-1.40],[12.07,-1.75],
  [12.10,-1.90],
  [11.00,-1.30],[11.01,-1.20],[11.02,-1.55],[11.03,-1.35],[11.05,-1.15],[11.06,-1.45],[11.08,-1.30],[11.09,-1.60],
  [11.11,-1.25],[11.12,-1.50],[11.14,-1.35],[11.16,-1.15],[11.17,-1.55],[11.19,-1.30],[11.21,-1.45],[11.22,-1.25],
  [11.25,-1.50],[11.28,-1.35],[11.31,-1.55],[11.33,-1.25],[11.36,-1.45],[11.40,-1.35],[11.45,-1.20],[11.50,-1.40],
  [11.55,-1.25],[11.60,-1.60],[11.65,-1.40],[11.70,-1.55],[11.75,-1.35],[11.80,-1.50],[11.86,-1.30],[11.92,-1.45],
  [11.97,-1.30],[12.02,-1.25],[12.06,-1.45],
  [11.01,-1.40],[11.03,-1.15],[11.04,-1.45],[11.06,-1.25],[11.07,-1.55],[11.10,-1.35],[11.12,-1.15],[11.13,-1.45],
  [11.15,-1.30],[11.18,-1.45],[11.20,-1.20],[11.23,-1.35],[11.26,-1.20],[11.29,-1.40],[11.32,-1.50],[11.35,-1.20],
  [11.38,-1.50],[11.42,-1.30],[11.47,-1.45],[11.52,-1.30],[11.57,-1.45],[11.62,-1.30],[11.68,-1.45],[11.73,-1.30],
  [11.78,-1.60],[11.84,-1.45],[11.89,-1.55],[11.95,-1.30]];
var simbaSNe1 = [[11.07,2.04],[11.08,2.23],[11.23,1.59],[11.28,1.26],[11.16,1.05],[11.20,1.04],[11.22,1.08],[11.20,0.92],
  [11.29,0.68],[11.45,1.32],[11.50,-0.09],[11.57,-0.57],[11.72,-0.56],[11.93,-0.52],[12.09,-0.77],[12.21,-1.09],
  [12.30,-1.18],[12.37,-1.09],[12.42,-1.02],[12.57,-0.93],[12.60,-1.14],[12.61,-1.40],[12.67,-1.43],[12.68,-1.60],
  [12.77,-1.81],[12.79,-2.09],[12.86,-1.89],[12.93,-2.26],[13.00,-2.12],[12.93,-2.66],[13.18,-2.67],[12.64,-1.91],
  [12.40,-1.40],[11.57,-2.75],[11.74,-2.95],[11.82,-2.77],[12.19,-2.65],[12.23,-2.58],[12.31,-2.98],[12.53,-2.26],
  [12.27,-1.96],[12.24,-2.19],[12.16,-2.29],[12.06,-2.42],[11.87,-2.51],[11.76,-2.46],[11.95,-2.33],[12.39,-2.19],
  [12.54,-1.85],[11.34,-0.71],[11.57,-0.77],
  [11.00,-0.90],[11.00,-1.30],[11.01,-1.10],[11.02,-0.75],[11.03,-1.45],[11.04,-1.00],[11.05,-1.25],[11.06,-0.85],
  [11.07,-1.60],[11.08,-1.15],[11.09,-0.95],[11.10,-1.40],[11.11,-0.70],[11.12,-1.20],[11.14,-1.00],[11.15,-1.50],
  [11.16,-0.80],[11.17,-1.30],[11.19,-1.05],[11.20,-0.65],[11.21,-1.40],[11.22,-1.15],[11.24,-0.90],[11.25,-1.65],
  [11.26,-1.25],[11.28,-0.75],[11.29,-1.05],[11.30,-1.45],[11.32,-0.85],[11.33,-1.20],[11.35,-1.00],[11.36,-0.60],
  [11.38,-1.35],[11.40,-0.90],[11.41,-1.15],[11.43,-1.55],[11.44,-0.80],[11.46,-1.05],[11.48,-1.30],[11.50,-0.95],
  [11.52,-1.70],[11.53,-1.15],[11.55,-0.85],[11.57,-1.40],[11.59,-1.05],[11.61,-1.25],[11.63,-0.90],[11.65,-1.60],
  [11.67,-1.15],[11.69,-1.35],[11.71,-0.95],[11.73,-1.80],[11.75,-1.20],[11.77,-1.50],[11.79,-1.00],[11.81,-1.70],
  [11.83,-1.25],[11.85,-0.85],[11.87,-1.45],[11.89,-1.90],[11.91,-1.15],[11.93,-1.60],[11.95,-1.35],[11.97,-1.95],
  [11.99,-1.50],[12.01,-1.75],[12.04,-1.30],[12.07,-1.65],[12.10,-1.85],[12.13,-1.45],[12.16,-1.60],
  [11.00,-1.05],[11.01,-0.80],[11.02,-1.30],[11.03,-0.95],[11.04,-1.20],[11.05,-0.72],[11.06,-1.05],[11.07,-0.88],
  [11.08,-1.35],[11.09,-1.10],[11.10,-0.80],[11.11,-1.25],[11.12,-0.95],[11.13,-1.10],[11.14,-0.75],[11.15,-1.20],
  [11.16,-1.00],[11.18,-0.85],[11.19,-1.25],[11.20,-1.00],[11.22,-0.80],[11.23,-1.20],[11.24,-1.05],[11.26,-0.85],
  [11.27,-1.10],[11.29,-0.70],[11.30,-1.20],[11.32,-1.00],[11.34,-0.80],[11.36,-1.15],[11.38,-0.95],[11.40,-0.72],
  [11.42,-1.05],[11.44,-0.90],[11.47,-0.75],[11.49,-1.10],[11.51,-0.85],[11.54,-1.00],[11.58,-0.80],[11.62,-1.05],
  [11.66,-0.85],[11.70,-1.10],[11.74,-0.90],[11.78,-1.20],[11.83,-1.00],[11.88,-1.15],[11.94,-1.05],[11.98,-1.25],
  [11.01,-1.45],[11.02,-0.95],[11.04,-1.35],[11.05,-1.05],[11.07,-1.20],[11.08,-0.70],[11.10,-1.10],[11.11,-1.55],
  [11.13,-0.85],[11.14,-1.30],[11.16,-1.15],[11.17,-0.75],[11.19,-1.45],[11.20,-1.20],[11.22,-1.00],[11.23,-1.45],
  [11.25,-0.85],[11.27,-1.30],[11.28,-1.00],[11.30,-0.85],[11.31,-1.30],[11.33,-0.95],[11.35,-1.35],[11.37,-0.80],
  [11.39,-1.15],[11.41,-0.95],[11.43,-1.30],[11.45,-1.00],[11.48,-0.88],[11.50,-1.20],[11.53,-0.95],[11.56,-1.20],
  [11.60,-0.95],[11.64,-1.25],[11.68,-0.95],[11.72,-1.30],[11.76,-1.00],[11.81,-0.90],[11.86,-1.30],[11.91,-1.40]];
var simbaSNe4 = [[11.14,2.53],[11.08,2.23],[11.14,1.69],[11.27,1.89],[11.62,1.61],[11.66,1.35],[11.55,1.20],[11.61,1.16],
  [11.83,1.11],[11.97,1.08],[11.05,1.21],[11.03,1.04],[11.40,1.04],[11.47,0.94],[11.54,0.86],[11.57,0.92],[11.65,1.08],
  [11.78,0.95],[11.88,0.84],[12.06,0.90],[12.07,0.92],[12.08,0.70],[12.45,0.77],
  [11.00,0.30],[11.00,-0.20],[11.00,-0.60],[11.01,0.55],[11.01,0.05],[11.02,-0.40],[11.02,0.70],[11.03,0.20],[11.03,-0.05],
  [11.04,0.45],[11.04,-0.30],[11.05,0.10],[11.05,0.60],[11.06,-0.50],[11.06,0.35],[11.07,-0.15],[11.07,0.80],[11.08,0.15],
  [11.09,0.50],[11.09,-0.35],[11.10,0.25],[11.11,-0.70],[11.11,0.65],[11.12,0.00],[11.13,0.40],[11.13,-0.45],[11.14,0.75],
  [11.15,0.20],[11.16,-0.20],[11.17,0.55],[11.18,-0.60],[11.18,0.30],[11.19,0.05],[11.20,0.85],[11.21,-0.35],[11.21,0.45],
  [11.22,0.10],[11.23,0.65],[11.24,-0.15],[11.25,0.35],[11.26,-0.55],[11.27,0.55],[11.28,0.15],[11.29,0.90],[11.30,-0.25],
  [11.31,0.40],[11.32,0.05],[11.33,0.70],[11.34,-0.40],[11.35,0.25],[11.36,0.50],[11.38,-0.05],[11.39,0.35],[11.40,0.75],
  [11.41,-0.30],[11.42,0.15],[11.44,0.55],[11.45,0.85],[11.46,-0.10],[11.48,0.30],[11.49,0.65],[11.50,-0.45],[11.52,0.20],
  [11.53,0.50],[11.55,0.00],[11.56,0.70],[11.58,0.35],[11.60,-0.25],[11.61,0.60],[11.63,0.15],[11.64,0.85],[11.66,0.40],
  [11.67,-0.10],[11.69,0.65],[11.70,0.25],[11.72,0.50],[11.74,-0.05],[11.75,0.70],[11.77,0.35],[11.78,-0.40],[11.80,0.55],
  [11.81,0.15],[11.83,0.75],[11.85,0.40],[11.86,-0.20],[11.88,0.60],[11.89,0.25],[11.91,-0.55],[11.92,0.45],[11.94,0.10],
  [11.95,0.65],[11.97,0.30],[11.98,-0.35],[12.00,0.50],[12.02,0.20],[12.03,0.70],[12.05,-0.10],[12.06,0.45],[12.08,0.55],
  [12.10,0.15],[12.12,0.35],[12.14,-0.25],[12.16,0.45],[12.18,0.20],[12.20,0.55],[12.22,0.30],[12.24,0.05],[12.26,0.50],
  [12.28,0.35],[12.30,0.15],[12.32,0.40],[12.35,0.25],
  [12.50,-0.20],[12.54,-0.31],[12.53,-0.44],[12.48,-0.49],[12.66,-0.49],[12.49,-0.99],[12.42,-0.71],[12.47,-1.09],
  [12.41,-1.33],[12.76,-1.23],[12.73,-1.52],[12.79,-1.57],[12.83,-1.42],[12.88,-1.93],[12.56,-1.43],[11.97,-1.25],
  [11.99,-2.05],[11.80,-2.48],[12.16,-0.16],[12.02,-0.30],[12.01,-0.76],[12.13,-0.68],[12.30,-0.33],[12.30,-0.54],
  [12.24,0.04],[12.27,0.49],[12.32,0.18],[12.40,0.39],[11.00,-0.71],[11.01,-1.54],[11.02,-1.71],[11.00,-1.26],
  [11.09,-1.09],[11.10,-1.26],[11.08,-0.85],[11.25,-0.92],[11.34,-0.99],[11.19,-0.71],
  [11.00,0.10],[11.00,0.50],[11.01,-0.35],[11.01,0.25],[11.02,0.00],[11.02,0.40],[11.03,-0.25],[11.03,0.60],[11.04,0.15],
  [11.05,-0.15],[11.05,0.35],[11.06,0.05],[11.06,0.62],[11.07,0.25],[11.07,-0.40],[11.08,0.45],[11.08,-0.10],[11.09,0.10],
  [11.10,0.55],[11.10,-0.25],[11.11,0.30],[11.12,0.50],[11.12,-0.30],[11.13,0.15],[11.14,-0.05],[11.15,0.45],[11.16,0.30],
  [11.17,-0.35],[11.17,0.10],[11.18,0.65],[11.19,0.35],[11.20,-0.10],[11.21,0.20],[11.22,0.55],[11.23,-0.30],[11.24,0.30],
  [11.25,0.05],[11.26,0.45],[11.27,-0.15],[11.28,0.35],[11.29,0.10],[11.30,0.60],[11.31,-0.05],[11.32,0.35],[11.33,0.15],
  [11.35,0.55],[11.36,-0.20],[11.37,0.30],[11.38,0.60],[11.40,0.10],[11.42,0.40],[11.43,-0.15],[11.45,0.25],[11.47,0.55],
  [11.50,0.35],[11.54,0.50],[11.57,0.20],[11.59,0.55],[11.62,0.35],[11.65,0.60],[11.68,0.45],[11.71,0.60],[11.73,0.20],
  [11.76,0.55],[11.79,0.35],[11.82,0.50],[11.87,0.40],[11.90,0.55],[11.96,0.50],[12.01,0.35],[12.05,0.30],[12.10,0.45],
  [11.00,0.65],[11.01,-0.50],[11.02,0.20],[11.03,0.45],[11.04,-0.12],[11.05,0.75],[11.06,-0.30],[11.07,0.50],[11.08,0.30],
  [11.09,-0.55],[11.10,0.05],[11.11,0.45],[11.12,0.75],[11.13,-0.20],[11.14,0.25],[11.15,-0.40],[11.16,0.60],[11.17,0.40],
  [11.18,0.00],[11.19,0.55],[11.20,0.20],[11.21,0.70],[11.22,-0.20],[11.23,0.40],[11.24,0.80],[11.25,-0.45],[11.26,0.15],
  [11.27,0.70],[11.28,-0.05],[11.29,0.45],[11.30,0.20],[11.31,0.75],[11.32,-0.35],[11.33,0.45],[11.34,0.25],[11.35,-0.10],
  [11.36,0.70],[11.37,0.05],[11.38,0.45],[11.39,0.80],[11.40,-0.20],[11.41,0.30],[11.42,0.60],[11.43,0.10],[11.44,0.40],
  [11.46,0.70],[11.47,0.15],[11.49,0.45],[11.51,0.65],[11.52,-0.05],[11.54,0.30],[11.55,0.80],[11.57,0.45],[11.58,0.10],
  [11.60,0.75],[11.61,0.40],[11.63,0.65],[11.65,0.20],[11.66,0.75],[11.68,0.30],[11.70,0.55],[11.71,0.85],[11.73,0.45],
  [11.75,0.25],[11.77,0.65],[11.78,0.85],[11.80,0.30],[11.82,0.65],[11.84,0.55],[11.86,0.80],[11.88,0.30],[11.90,0.65],
  [11.93,0.75],[11.95,0.35],[11.98,0.60],[12.00,0.25],[12.03,0.45],[12.06,0.70],[12.09,0.35],[12.11,0.60],[12.14,0.40],
  [12.17,0.65],[12.19,0.40],[12.21,0.25],[12.23,0.55],[12.27,0.30],[12.29,0.60],[12.33,0.50]];

// SIMBA - AGN QSO mode
var simbaQSO025 = [[11.26,-0.20],[11.28,-0.23],[11.29,0.04],[11.30,-0.09],[11.32,0.01],[11.35,-0.06],[11.40,-0.26],
  [11.39,-0.33],[11.42,-0.02],[11.44,-0.51],[11.46,-0.02],[11.48,-0.33],[11.50,-0.13],[11.54,-0.16],[11.55,-0.30],
  [11.61,-0.06],[11.67,-0.23],[11.65,-0.02],[11.37,0.22],[11.41,0.25],[11.46,0.25],[11.52,0.32],[11.55,0.46],[11.61,0.53],
  [11.67,0.59],[11.72,0.53],[11.76,0.46],[11.81,0.53],[11.87,0.39],[11.91,0.32],[11.96,0.29],[12.02,0.22],[12.06,0.18],
  [12.09,0.15],[12.13,0.39],[12.19,0.44],[12.22,0.22],[12.24,0.29],[12.32,0.66],[12.34,0.70],[12.37,0.46],[12.39,-0.33],
  [12.48,0.49],[12.50,0.11],[12.56,0.20],[12.58,0.59],[12.67,0.59],[12.68,0.32],[12.72,0.32],[12.77,0.56],[12.80,0.22],
  [12.86,0.22],[12.93,-0.06],[13.00,-0.28],[13.01,-0.45],[13.18,-0.47],[12.00,1.21],[12.02,1.04],[12.05,1.08],[12.09,1.01],
  [11.97,0.80],[11.92,0.87],[11.85,0.70],[12.11,0.79],[12.28,0.94],[11.40,0.77],[11.39,0.70],[11.54,-0.81],[11.55,-0.85],
  [11.43,-1.09],[11.38,-1.27],[11.54,-1.21],[11.76,-1.12],[11.41,-2.12],[11.46,-3.89],[11.60,0.30],[11.65,0.15],
  [11.70,0.35],[11.75,0.20],[11.80,0.30],[11.85,0.15],[11.90,0.20],[11.95,0.10],[11.68,0.05],[11.78,0.40],
  [11.33,0.35],[11.36,0.10],[11.38,0.40],[11.42,0.18],[11.45,0.42],[11.48,0.12],[11.50,0.45],[11.53,0.20],[11.56,0.38],
  [11.58,0.15],[11.62,0.42],[11.66,0.28],[11.70,0.48],[11.73,0.30],[11.77,0.35],[11.82,0.42],[11.84,0.25],[11.88,0.32],
  [11.92,0.25],[11.98,0.18],[12.04,0.12],[11.28,-0.10],[11.34,-0.15],[11.45,-0.20]];
var simbaQSO1 = [[11.74,1.45],[11.72,1.42],[11.83,1.64],[11.87,1.45],[11.89,1.42],[11.94,1.56],[11.96,1.73],[11.98,1.35],
  [12.02,1.32],[12.07,1.42],[12.12,1.35],[12.19,1.21],[12.23,1.28],[12.29,1.11],[12.37,1.06],[12.33,0.94],[12.20,0.80],
  [12.20,0.73],[12.32,0.46],[12.42,0.29],[12.52,0.73],[12.56,0.59],[12.62,0.66],[12.64,0.66],[12.68,0.88],[12.75,0.81],
  [12.75,0.66],[12.85,0.59],[12.93,0.18],[12.98,0.00],[12.99,0.00],[13.18,0.13],[12.78,-0.28],[12.67,0.32],[12.59,0.22],
  [12.29,-0.16],[12.05,-0.61],[11.88,-0.51],[11.67,-0.44],[11.60,-0.37],[11.57,-0.54],[11.60,-0.86],[11.67,-0.86],
  [11.54,-0.85],[11.62,-1.81],[11.44,-1.69],[11.34,-0.49],[11.32,-0.49],[11.35,-0.30],[11.42,-0.47],[11.44,-0.63],
  [11.33,0.77],[11.34,0.63],[11.41,0.84],[11.46,0.80],[11.47,0.97],[11.52,0.87],[11.55,0.97],[11.28,0.25],[11.32,0.18],
  [11.36,-0.03],[11.39,0.15],[11.45,0.60],[11.50,0.45],[11.55,0.70],[11.58,0.35],[11.62,0.55],[11.65,0.80],[11.68,0.40],
  [11.70,0.65],[11.73,0.50],[11.76,0.75],[11.78,0.30],[11.80,0.55],[11.83,0.45],[11.86,0.65],[11.88,0.35],[11.90,0.50],
  [11.93,0.40],[11.96,0.30],[11.99,0.45],[12.02,0.25],[11.48,0.25],[11.52,0.10],[11.60,0.05],[11.66,-0.10],[11.74,0.00],
  [11.82,0.10],[11.40,0.40],[11.43,0.15],
  [11.36,0.45],[11.40,0.60],[11.44,0.35],[11.47,0.70],[11.51,0.55],[11.56,0.30],[11.60,0.62],[11.63,0.40],[11.67,0.65],
  [11.71,0.42],[11.75,0.55],[11.79,0.45],[11.84,0.60],[11.88,0.50],[11.92,0.30],[11.95,0.45],[11.30,0.40],[11.27,0.05]];
var simbaQSO4 = [[11.79,2.35],[11.69,2.14],[11.72,2.11],[11.74,2.18],[11.76,2.24],[11.78,2.11],[11.81,2.18],[11.83,1.97],
  [11.72,1.91],[11.66,1.87],[11.80,1.90],[11.88,1.83],[11.85,1.59],[11.91,1.73],[11.93,1.63],[11.99,2.04],[12.02,1.83],
  [12.03,1.76],[12.09,1.93],[12.12,1.73],[12.18,1.90],[12.17,1.69],[12.28,1.71],[12.16,1.56],[11.99,1.59],[11.97,1.52],
  [11.65,1.63],[11.64,1.57],[11.55,1.33],[11.81,1.36],[11.87,1.42],[11.91,1.32],[12.00,1.28],[12.07,1.38],[12.14,1.35],
  [12.24,1.45],[12.29,1.38],[12.32,1.23],[12.30,1.21],[12.47,1.21],[12.53,1.20],[12.66,1.04],[12.72,1.14],[12.76,1.14],
  [12.22,1.01],[12.24,0.94],[12.28,0.97],[12.41,0.95],[12.49,0.84],[12.66,0.80],[12.72,0.88],[12.83,0.53],[12.88,0.46],
  [11.63,1.18],[11.61,1.14],[11.57,1.01],[11.59,0.94],[11.65,0.90],[11.67,0.84],[11.56,0.77],[11.52,0.94],[11.68,0.73],
  [11.72,0.70],[11.70,0.59],[11.73,0.90],[11.78,0.77],[11.83,0.53],[11.87,0.59],[11.91,0.49],[11.80,0.39],[11.75,0.35],
  [11.65,0.53],[11.63,0.39],[11.60,0.25],[11.57,0.18],[11.77,0.18],[11.83,0.04],[11.86,-0.02],[11.91,0.73],[12.04,0.59],
  [12.20,0.59],[12.23,0.66],[12.29,0.70],[12.32,0.81],[12.45,-0.01],[12.47,-0.16],[12.49,0.59],[12.52,0.53],[11.93,0.01],
  [11.94,-0.21],[11.97,-0.20],[12.06,-0.40],[12.10,-0.32],[12.05,-0.61],[11.91,-0.64],[11.78,-0.68],[11.95,-1.16],
  [12.30,-0.69],[11.61,-1.58],[12.56,-2.44],[12.41,-2.91],[12.79,-0.61],[12.40,-0.28],[11.44,0.29],[11.43,0.49],
  [11.58,0.70],[11.60,0.45],[11.62,0.85],[11.63,0.60],[11.66,0.72],[11.68,0.50],[11.70,0.85],[11.71,0.40],[11.74,0.62],
  [11.76,0.48],[11.79,0.60],[11.81,0.45],[11.84,0.70],[11.86,0.40],[11.89,0.55],[11.92,0.42],[11.95,0.55],[11.98,0.38],
  [11.55,0.95],[11.59,1.05],[11.64,1.00],[11.54,0.58],[11.52,0.75]];

// SIMBA - AGN jet mode
var simbaJet025 = [[11.81,1.42],[11.84,1.04],[11.86,0.90],[11.87,0.77],[11.91,1.08],[11.95,1.21],[11.97,1.11],[12.02,1.08],
  [12.04,0.97],[12.06,0.80],[12.09,0.87],[12.12,0.94],[12.00,0.80],[11.94,0.59],[11.95,0.46],[12.02,0.39],[12.05,0.63],
  [12.08,0.46],[12.12,0.46],[12.13,0.66],[12.19,1.35],[12.22,0.80],[12.23,0.59],[12.28,0.77],[12.32,0.97],[12.33,0.80],
  [12.38,0.66],[12.39,0.80],[12.47,0.53],[12.49,0.56],[12.56,0.32],[12.57,0.63],[12.69,0.25],[12.74,0.53],[12.77,0.49],
  [12.80,0.49],[12.86,0.35],[12.93,0.49],[13.00,0.24],[13.00,-0.13],[13.18,0.06],[12.80,0.02],[12.23,0.18],[11.97,0.04],
  [11.88,0.15],[11.85,0.13],[11.80,0.07],[11.86,0.00],[11.81,0.39],[11.83,-0.51],[11.92,0.11],[11.98,0.04],
  [11.90,0.95],[11.96,0.88],[12.00,1.00],[12.07,0.92],[12.10,0.70],[12.15,0.85],[12.18,0.78],[12.26,0.85],[12.30,0.75]];
var simbaJet1 = [[11.72,1.73],[11.74,1.76],[11.76,1.59],[11.79,1.52],[11.80,1.49],[11.81,1.76],[11.83,1.69],[11.87,1.66],
  [11.91,1.56],[11.93,1.56],[11.96,1.63],[11.99,1.56],[12.02,1.45],[12.06,1.42],[12.09,1.45],[12.11,1.38],[12.13,1.28],
  [12.19,1.14],[12.21,1.14],[12.23,1.01],[12.28,1.01],[12.32,0.92],[12.37,0.88],[12.41,0.94],[11.68,1.14],[11.77,1.14],
  [11.76,0.88],[11.74,0.62],[11.81,0.62],[11.87,0.63],[11.93,0.53],[12.02,0.66],[12.09,0.73],[12.22,0.59],[12.29,0.13],
  [12.41,0.44],[12.50,0.39],[12.56,0.73],[12.52,0.99],[12.68,0.80],[12.75,0.66],[12.76,0.81],[12.85,0.59],[12.93,0.49],
  [12.99,0.39],[12.98,-0.06],[13.17,0.25],[12.64,0.39],[12.68,0.59],[12.78,0.20],[11.75,0.25],[11.65,-0.21],[11.80,-0.28],
  [11.93,-0.35],[12.01,-0.33],
  [11.86,1.50],[11.90,1.40],[11.95,1.48],[12.00,1.35],[12.04,1.28],[12.08,1.20],[12.12,1.15],[12.16,1.22],[12.25,1.10],
  [12.30,1.05],[11.84,1.30]];
var simbaJet4 = [[11.55,2.11],[11.65,2.24],[11.67,2.18],[11.69,2.21],[11.72,2.14],[11.75,2.21],[11.77,2.14],[11.72,2.00],
  [11.62,1.83],[11.64,1.87],[11.65,1.96],[11.68,1.69],[11.83,2.07],[11.81,2.00],[11.80,1.97],[11.78,1.87],[11.85,1.83],
  [11.87,1.93],[11.88,1.83],[11.91,1.76],[11.94,1.93],[11.98,1.93],[12.00,1.87],[12.02,1.83],[12.03,1.73],[12.06,1.69],
  [12.09,1.80],[12.17,1.63],[12.16,1.59],[12.28,1.52],[12.41,1.32],[12.66,1.23],[11.58,1.45],[11.60,1.35],[11.62,1.56],
  [11.65,1.26],[11.68,1.04],[11.74,1.11],[11.77,1.32],[11.72,1.52],[11.82,1.49],[11.88,1.42],[11.90,1.35],[11.93,1.56],
  [11.96,1.45],[12.02,1.52],[12.05,1.52],[12.08,1.35],[12.12,1.35],[12.04,1.21],[12.06,1.14],[12.15,1.25],[12.22,1.38],
  [12.26,1.35],[12.30,1.32],[12.33,1.25],[12.24,1.21],[12.28,1.18],[12.32,1.23],[11.92,1.04],[11.98,1.08],[12.04,1.04],
  [11.89,1.04],[11.82,1.08],[11.93,1.01],[12.20,1.01],[12.24,0.97],[12.31,0.70],[12.39,1.01],[12.45,0.77],[12.49,1.01],
  [12.48,0.90],[12.53,0.94],[12.48,0.49],[12.46,0.63],[12.72,0.87],[12.75,0.97],[12.82,0.59],[12.88,0.35],[12.78,0.18],
  [12.79,0.11],[12.03,0.35],[12.08,0.29],[11.63,0.25],[11.57,0.04],[12.25,-0.46],[12.22,-0.66],
  [11.70,2.05],[11.74,1.90],[11.79,2.05],[11.84,1.95],[11.90,1.88],[11.95,1.80],[12.00,1.72],[12.06,1.60],[12.11,1.55],
  [12.14,1.48],[12.19,1.42],[12.21,1.55],[12.26,1.45],[12.35,1.30],[11.86,1.70],[11.76,1.65],[11.97,1.62]];

// halo mass histograms: percent of halos per 0.1 dex bin (binEdges)
var tngThermalHist025 = [14.1,13.3,12.6,8.5,7.9,7.5,8.1,6.2,4.6,3.3,3.7,1.8,1.7,1.5,0.8,1.0,0.6,0.7,0.4,0.5,0.2,0.2];
var tngThermalHist1 = [13.7,13.1,12.3,8.3,7.7,7.3,7.1,5.4,5.2,2.9,3.2,1.4,1.2,1.0,1.1,1.2,0.8,0.5,0.4,0.3,0.2,0.2];
var tngThermalHist4 = [13.3,12.9,12.1,8.1,7.5,6.9,5.7,5.8,4.6,2.5,3.7,1.4,1.7,1.5,1.0,1.0,0.6,0.8,0.5,0.6,0.3,0.2];
var tngKineticHist025 = [0,0,0,0.4,1.2,4.8,9.6,14.1,13.7,12.3,9.6,6.7,4.2,6.2,1.2,3.7,2.1,2.9,1.2,0.4,0.2,0.2];
var tngKineticHist1 = [0.3,0,0,0,0,0,0,1.1,3.7,3.2,9.4,6.7,6.7,4.0,2.1,4.6,2.1,2.7,1.5,1.2,0.4,0.2];
var tngKineticHist4 = [0,0,0,0,0,0,0,0,0.4,0.8,1.2,2.5,0.8,4.4,3.7,3.5,2.1,2.9,1.2,1.9,1.0,0.4];
var simbaQSOHist025 = [0,0,1.8,4.9,11.4,14.3,9.5,11.2,8.9,7.6,6.0,2.7,3.9,3.5,1.8,1.8,1.4,1.0,0.8,0.8,0.7,0.3];
var simbaQSOHist1 = [0,0,0.6,2.5,7.6,9.3,9.3,9.1,8.9,6.0,6.0,2.7,4.5,2.7,0.8,2.1,1.4,0.8,1.0,0.7,0.6,0.3];
var simbaQSOHist4 = [0,0,0,0,0.2,3.9,8.1,6.4,7.8,7.2,5.8,2.2,3.9,2.7,2.8,1.8,1.0,1.2,0.8,0.6,0.3,0.2];
var simbaJetHist025 = [0,0,0,0,0,0,0,0.6,10.1,8.1,10.1,5.2,7.6,6.8,3.5,2.5,1.4,2.5,2.0,1.2,1.2,0.6];
var simbaJetHist1 = [0,0,0,0,0,0,0,6.2,11.0,14.3,10.1,4.2,8.9,5.0,1.8,4.2,2.7,1.8,1.8,2.0,0.6,0.6];
var simbaJetHist4 = [0,0,0,0,0,2.2,8.1,8.9,8.1,6.8,9.7,4.7,7.6,2.5,4.7,0.8,2.2,1.0,0.8,0.2,0,0];

var panels = [
  { row: 0, col: 0, title: "SNe", points: [tngSNe025, tngSNe1, tngSNe4], hist: null, legend: true },
  { row: 0, col: 1, title: "Thermal AGN", points: [tngThermal025, tngThermal1, tngThermal4],
    hist: [tngThermalHist025, tngThermalHist1, tngThermalHist4] },
  { row: 0, col: 2, title: "Kinetic AGN", points: [tngKinetic025, tngKinetic1, tngKinetic4],
    hist: [tngKineticHist025, tngKineticHist1, tngKineticHist4] },
  { row: 1, col: 0, title: "SNe", points: [simbaSNe025, simbaSNe1, simbaSNe4], hist: null },
  { row: 1, col: 1, title: "AGN QSO mode", points: [simbaQSO025, simbaQSO1, simbaQSO4],
    hist: [simbaQSOHist025, simbaQSOHist1, simbaQSOHist4] },
  { row: 1, col: 2, title: "AGN jet mode", points: [simbaJet025, simbaJet1, simbaJet4],
    hist: [simbaJetHist025, simbaJetHist1, simbaJetHist4] }
];
var rowLabels = ["IllustrisTNG", "SIMBA"];

var serif = "'DejaVu Serif', serif",
  sans = "'DejaVu Sans', sans-serif",
  frameColor = "#3a3a3a";

var svg = d3.select("#chart");
var W = 403, H = 401,
  lefts = [129, 543, 957],
  tops = [2, 416];

var x = d3.scaleLinear().domain([10.95, 13.2]).range([0, W]);
var y = d3.scaleLog().domain([1e-5, 2e3]).range([H, 0]);
var yHist = d3.scaleLinear().domain([0, 100]).range([H, 0]);

var symbols = [d3.symbolSquare, d3.symbolCircle, d3.symbolTriangle],
  symbolSizes = [50, 40, 32],
  legendSizes = [80, 58, 50];

var defs = svg.append("defs");

panels.forEach(function (p, i) {
  var g = svg.append("g")
    .attr("transform", "translate(" + lefts[p.col] + "," + tops[p.row] + ")");

  defs.append("clipPath").attr("id", "clip" + i)
    .append("rect").attr("width", W).attr("height", H);

  var plot = g.append("g").attr("clip-path", "url(#clip" + i + ")");

  // scatter
  p.points.forEach(function (pts, k) {
    plot.append("g")
      .selectAll("path")
      .data(pts)
      .join("path")
      .attr("transform", function (d) {
        return "translate(" + x(d[0]) + "," + y(Math.pow(10, d[1])) + ")";
      })
      .attr("d", d3.symbol(symbols[k], symbolSizes[k]))
      .attr("fill", "none")
      .attr("stroke", runColors[k])
      .attr("stroke-width", 1.25)
      .attr("stroke-opacity", 0.8);
  });

  // step histograms of halo mass
  if (p.hist) {
    p.hist.forEach(function (h, k) {
      var steps = [[binEdges[0], 0]];
      h.forEach(function (v, j) {
        steps.push([binEdges[j], v]);
        steps.push([binEdges[j + 1], v]);
      });
      steps.push([binEdges[binEdges.length - 1], 0]);
      plot.append("path")
        .datum(steps)
        .attr("d", d3.line().x(function (d) { return x(d[0]); }).y(function (d) { return yHist(d[1]); }))
        .attr("fill", "none")
        .attr("stroke", runColors[k])
        .attr("stroke-width", 3)
        .attr("stroke-opacity", 0.65);
    });
  }

  // axes
  var yAxis = g.append("g")
    .call(d3.axisLeft(y).tickValues(energyTicks).tickSize(-7).tickFormat(""));
  var xAxis = g.append("g")
    .attr("transform", "translate(0," + H + ")")
    .call(d3.axisBottom(x).tickValues(massTicks).tickSize(-7).tickPadding(8)
      .tickFormat(p.row === 1 ? d3.format(".1f") : ""));
  [xAxis, yAxis].forEach(function (a) {
    a.select(".domain").remove();
    a.selectAll("line").attr("stroke", frameColor).attr("stroke-width", 1);
    a.selectAll("text")
      .attr("font-family", serif)
      .attr("font-size", 21)
      .attr("fill", "#000");
  });

  if (p.col === 0) {
    energyTicks.forEach(function (t, j) {
      var lab = g.append("text")
        .attr("x", -5)
        .attr("y", y(t) + 8)
        .attr("text-anchor", "end")
        .attr("font-family", serif)
        .attr("font-size", 21)
        .attr("fill", "#000");
      lab.append("tspan").text("10");
      lab.append("tspan").attr("dy", -9).attr("font-size", 15).text(energyTickExp[j]);
    });

    // row label
    var rl = g.append("g").attr("transform", "translate(-98," + H / 2 + ") rotate(-90)");
    rl.append("text")
      .attr("x", 0).attr("y", 0)
      .attr("text-anchor", "middle")
      .attr("font-family", serif).attr("font-size", 26)
      .text(rowLabels[p.row]);
    var el = rl.append("text")
      .attr("x", 0).attr("y", 28)
      .attr("text-anchor", "middle")
      .attr("font-family", serif).attr("font-size", 26);
    el.append("tspan").text("E");
    el.append("tspan").attr("dy", 6).attr("font-family", sans).attr("font-style", "italic")
      .attr("font-size", 18).text("FB");
    el.append("tspan").attr("dy", -6).text(" / E");
    el.append("tspan").attr("dy", 6).attr("font-family", sans).attr("font-style", "italic")
      .attr("font-size", 18).text("b");
  }

  if (p.row === 1) {
    var xl = g.append("text")
      .attr("x", W / 2)
      .attr("y", 449)
      .attr("text-anchor", "middle")
      .attr("font-family", serif)
      .attr("font-size", 26)
      .attr("fill", "#000");
    xl.append("tspan").text("log (M");
    xl.append("tspan").attr("dy", 6).attr("font-family", sans).attr("font-size", 18).text("200");
    xl.append("tspan").attr("font-family", sans).attr("font-size", 18).attr("font-style", "italic").text("c");
    xl.append("tspan").attr("dy", -6).text(" / M");
    xl.append("tspan").attr("dy", 6).attr("font-family", sans).attr("font-size", 18).text("\u2299");
    xl.append("tspan").attr("dy", -6).text(")");
  }

  // frame
  g.append("rect")
    .attr("width", W).attr("height", H)
    .attr("fill", "none")
    .attr("stroke", frameColor)
    .attr("stroke-width", 1.2);

  // title box
  var tt = g.append("text")
    .attr("x", W - 29)
    .attr("y", 37)
    .attr("text-anchor", "end")
    .attr("font-family", serif)
    .attr("font-size", 27.5)
    .attr("fill", "#000")
    .text(p.title);
  var tw = tt.node().getComputedTextLength();
  g.insert("rect", function () { return tt.node(); })
    .attr("x", W - 29 - tw - 8)
    .attr("y", 9)
    .attr("width", tw + 16)
    .attr("height", 39)
    .attr("fill", "#fff")
    .attr("stroke", "#aaa")
    .attr("stroke-width", 1.2);

  // legend
  if (p.legend) {
    var lg = g.append("g").attr("transform", "translate(14,256)");
    lg.append("rect")
      .attr("width", 261).attr("height", 130)
      .attr("rx", 4)
      .attr("fill", "#fff").attr("fill-opacity", 0.85)
      .attr("stroke", "#d0d0d0");
    runLabels.forEach(function (lbl, k) {
      var ry = 25 + k * 40;
      lg.append("path")
        .attr("transform", "translate(39," + ry + ")")
        .attr("d", d3.symbol(symbols[k], legendSizes[k]))
        .attr("fill", "none")
        .attr("stroke", runColors[k])
        .attr("stroke-width", 1.6)
        .attr("stroke-opacity", 0.8);
      var lt = lg.append("text")
        .attr("x", 89).attr("y", ry + 9)
        .attr("font-family", serif).attr("font-size", 27.5).attr("fill", "#000");
      lt.append("tspan").text("A");
      lt.append("tspan").attr("dy", 6).attr("font-family", sans).attr("font-size", 19).text("SN1");
      lt.append("tspan").attr("dy", -6).text(" = " + lbl);
    });
  }
});
</script>
</body>
</html>
